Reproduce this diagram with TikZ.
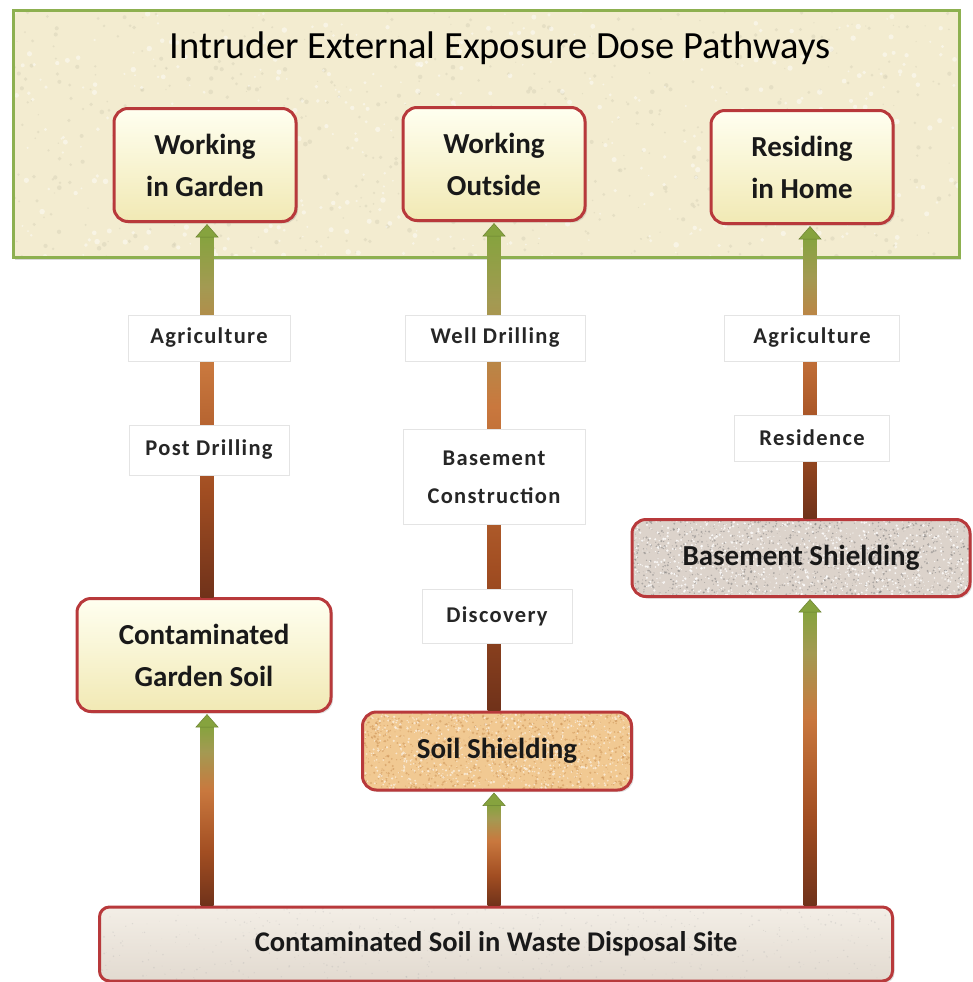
\documentclass[tikz,border=0pt]{standalone}
\usepackage{fontspec}
\setmainfont{Carlito}
\newfontfamily\tagfont[LetterSpace=6]{Carlito}
\usetikzlibrary{calc,shadows}

\definecolor{panelfill}{HTML}{F3ECD0}
\definecolor{panelline}{HTML}{8DB050}
\definecolor{boxred}{HTML}{B8393B}
\definecolor{goaltop}{HTML}{FFFFF0}
\definecolor{goalbot}{HTML}{F1E9B4}
\definecolor{sandfill}{HTML}{F1C992}
\definecolor{granitefill}{HTML}{DCD3CB}
\definecolor{sitetop}{HTML}{F3EEE6}
\definecolor{sitebot}{HTML}{E2DAD0}
\definecolor{tagline}{HTML}{E4E4E4}
\definecolor{abrown}{HTML}{70321A}
\definecolor{arust}{HTML}{A24E22}
\definecolor{aorange}{HTML}{C9783E}
\definecolor{aolive}{HTML}{A39A52}
\definecolor{agreen}{HTML}{86A33E}

% shaft colour: dark brown at the foot, green under the head
\pgfdeclareverticalshading{pathwayshade}{100bp}{color(0bp)=(abrown); color(25bp)=(abrown); color(40bp)=(arust); color(57bp)=(aorange); color(68bp)=(aolive); color(75bp)=(agreen); color(100bp)=(agreen)}

% random speckles inside a path picture
\newcommand\grainfill[4]{%
  \foreach \k in {1,...,#1}{%
    \fill[#2] let \p1=(path picture bounding box.south west),
                  \p2=(path picture bounding box.north east) in
      ({\x1+rnd*(\x2-\x1)},{\y1+rnd*(\y2-\y1)}) circle ({#3+rnd*#4});}}

% upward pathway arrow from node #1 to node #2 along column #3
\newcommand\pathway[3]{%
  \shade[shading=pathwayshade] ($(#1.north -| #3)+(-6.5,0)$) rectangle ($(#2.south -| #3)+(6.5,13)$);
  \fill[agreen, draw=agreen!80!black, line width=0.5pt]
    ($(#2.south -| #3)+(-11,14)$) -- ($(#2.south -| #3)+(0,1.5)$) -- ($(#2.south -| #3)+(11,14)$) -- cycle;}

\begin{document}
\pgfmathsetseed{11}
\begin{tikzpicture}[x=1pt,y=-1pt,
  panel/.style={draw=panelline, line width=3pt, fill=panelfill,
    minimum width=946pt, minimum height=246pt,
    drop shadow={opacity=0.3, shadow xshift=1.5pt, shadow yshift=-2.5pt},
    path picture={\grainfill{600}{black!12!panelfill, opacity=0.45}{0.6pt}{1.8pt}
                  \grainfill{500}{white, opacity=0.45}{0.8pt}{2pt}}},
  titletext/.style={font=\fontsize{38.5}{44}\selectfont, text=black},
  boxbase/.style={draw=boxred, line width=3pt, rounded corners=14pt, align=center,
    font=\bfseries\fontsize{29}{42}\selectfont, text=black!90,
    drop shadow={opacity=0.25, shadow xshift=2pt, shadow yshift=-2pt}},
  goal/.style={boxbase, top color=goaltop, bottom color=goalbot,
    minimum width=182pt, minimum height=113pt},
  sand/.style={boxbase, fill=sandfill, minimum width=269pt, minimum height=78pt,
    path picture={\grainfill{900}{brown!70!sandfill, opacity=0.55}{0.4pt}{1.0pt}
                  \grainfill{700}{white!80!sandfill, opacity=0.7}{0.4pt}{1.0pt}}},
  granite/.style={boxbase, fill=granitefill, minimum width=338pt, minimum height=77pt,
    path picture={\grainfill{1100}{black!55, opacity=0.45}{0.3pt}{0.9pt}
                  \grainfill{900}{white, opacity=0.8}{0.4pt}{1.0pt}}},
  site/.style={boxbase, top color=sitetop, bottom color=sitebot,
    minimum width=793pt, minimum height=74pt, rounded corners=10pt,
    font=\bfseries\fontsize{28.5}{34}\selectfont,
    path picture={\grainfill{500}{black!30, opacity=0.3}{0.3pt}{0.7pt}}},
  tag/.style={fill=white, draw=tagline, line width=0.6pt, align=center,
    minimum height=46pt, inner sep=2pt,
    font=\tagfont\bfseries\fontsize{22.5}{38}\selectfont, text=black!85}
]
\useasboundingbox (0,0) rectangle (972,982);

% top panel with the three exposure scenarios
\node[panel] (panel) at (486,134) {};
\node[titletext] (title) at (500,48) {Intruder External Exposure Dose Pathways};
\node[goal] (wg) at (205,165) {Working\\in Garden};
\node[goal] (wo) at (494,164) {Working\\Outside};
\node[goal] (rh) at (802,167) {Residing\\in Home};

% intermediate media and the disposal site
\node[goal, minimum width=254pt] (cgs) at (204,655) {Contaminated\\Garden Soil};
\node[sand] (ss) at (497,751) {Soil Shielding};
\node[granite] (bs) at (801,558) {Basement Shielding};
\node[site] (site) at (496,944) {Contaminated Soil in Waste Disposal Site};

% arrow columns
\coordinate (colA) at (207,0);
\coordinate (colB) at (494,0);
\coordinate (colC) at (810,0);

\pathway{cgs}{wg}{colA}
\pathway{ss}{wo}{colB}
\pathway{bs}{rh}{colC}
\pathway{site}{cgs}{colA}
\pathway{site}{ss}{colB}
\pathway{site}{bs}{colC}

% scenario labels on the arrows
\node[tag, minimum width=162pt] (a1) at (209,338) {Agriculture};
\node[tag, minimum width=160pt, minimum height=50pt] (a2) at (209,450) {Post Drilling};
\node[tag, minimum width=180pt] (b1) at (495,338) {Well Drilling};
\node[tag, minimum width=182pt, minimum height=95pt] (b2) at (494,477) {Basement\\Construction};
\node[tag, minimum width=150pt, minimum height=54pt] (b3) at (497,616) {Discovery};
\node[tag, minimum width=175pt] (c1) at (812,338) {Agriculture};
\node[tag, minimum width=155pt] (c2) at (812,438) {Residence};
\end{tikzpicture}
\end{document}
